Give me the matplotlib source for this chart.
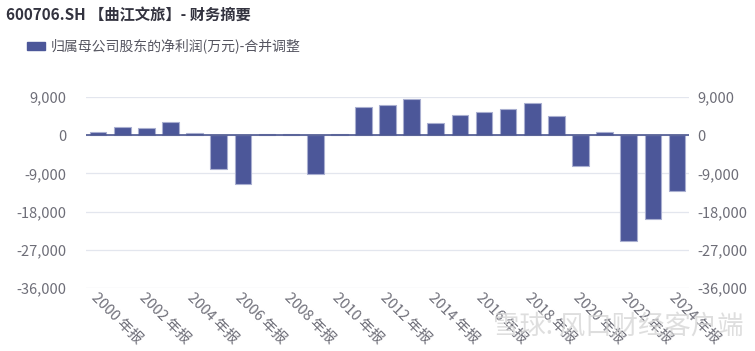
import matplotlib.pyplot as plt
import numpy as np

plt.rcParams['font.family'] = ['Noto Sans CJK SC', 'DejaVu Sans']

# data (万元)
years = list(range(2000, 2025))
profit = [650, 1970, 1660, 3000, 630, -7900, -11450, 230, 230, -9080,
          250, 6550, 7100, 8450, 2900, 4800, 5370, 6240, 7580, 4500,
          -7180, 710, -24950, -19660, -13100]
yticks = [9000, 0, -9000, -18000, -27000, -36000]

bar_color = '#4c5799'
tick_color = '#6e6e78'

fig = plt.figure(figsize=(7.55, 3.51), dpi=100)
ax = fig.add_axes([0.114, 0.1795, 0.7986, 0.5441])

x = np.arange(len(years))
ax.bar(x, profit, width=0.69, color=bar_color, edgecolor='#a9afd0', linewidth=0.8, zorder=3)

ax.set_xlim(-0.5, len(years) - 0.5)
ax.set_ylim(-36000, 9000)
ax.set_yticks(yticks)
ax.set_yticklabels([f'{v:,}' for v in yticks])
ax.grid(axis='y', color='#e3e6ee', linewidth=0.9, zorder=0)
ax.axhline(0, color='#4c5790', linewidth=1.2, zorder=4)

for s in ax.spines.values():
    s.set_visible(False)

ax.tick_params(axis='y', length=0, labelsize=10.5, labelcolor=tick_color, pad=14)
ax.tick_params(axis='x', length=0, labelsize=10.5, labelcolor=tick_color, pad=2)

ax.set_xticks(x[::2])
ax.set_xticklabels([f'{y} 年报' for y in years[::2]], rotation=-45, ha='left',
                   rotation_mode='anchor')

ax2 = ax.twinx()
ax2.set_ylim(ax.get_ylim())
ax2.set_yticks(yticks)
ax2.set_yticklabels([f'{v:,}' for v in yticks])
ax2.tick_params(axis='y', length=0, labelsize=10.5, labelcolor=tick_color, pad=6)
for s in ax2.spines.values():
    s.set_visible(False)

# title and legend
fig.text(0.008, 0.955, '600706.SH 【曲江文旅】- 财务摘要', fontsize=11, fontweight='bold',
         color='#33333f', va='center')
fig.patches.append(plt.Rectangle((0.036, 0.858), 0.024, 0.022, transform=fig.transFigure,
                                 color=bar_color))
fig.text(0.067, 0.869, '归属母公司股东的净利润(万元)-合并调整', fontsize=10,
         color='#555560', va='center')

# watermark
fig.text(0.985, 0.072, '雪球: 风口财经客户端', fontsize=19, color='#d4d4d4',
         ha='right', va='center', alpha=0.75)

fig.savefig('out.png', dpi=100)
